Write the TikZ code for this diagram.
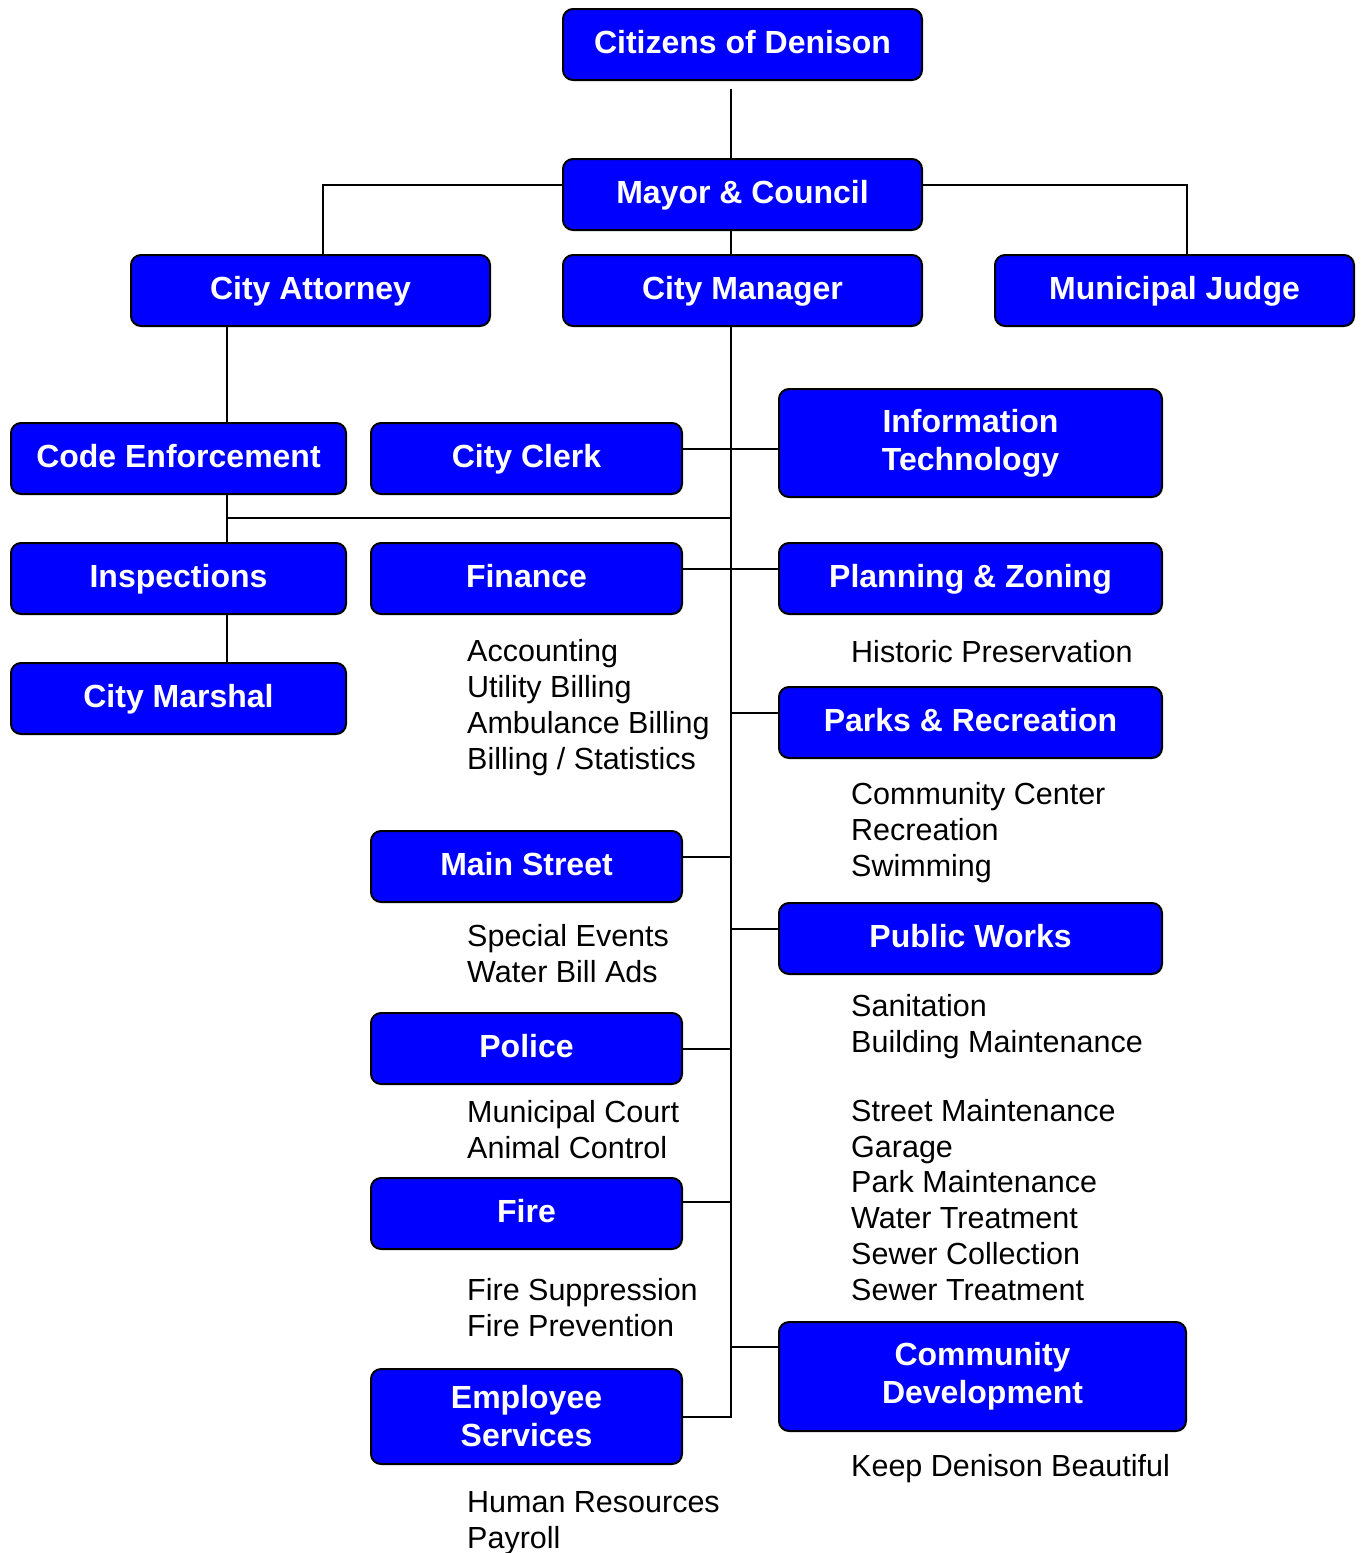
\documentclass[tikz,border=0pt]{standalone}
\usepackage{fontspec}
\setmainfont{Liberation Sans}
\usetikzlibrary{positioning,calc}
\definecolor{boxBlue}{RGB}{0, 0, 255}
\definecolor{inkBlack}{RGB}{0, 0, 0}

\tikzset{
    unit/.style={draw=inkBlack, fill=boxBlue, line width=2pt, rounded corners=10pt,
        text=white, align=center, inner sep=0pt, minimum height=71pt,
        text height=23pt, text depth=5pt,
        font=\fontsize{32pt}{38pt}\selectfont\bfseries},
    twoline/.style={text height={}, text depth={}},
    wide/.style={unit, minimum width=359pt},
    mid/.style={unit, minimum width=311pt},
    side/.style={unit, minimum width=383pt},
    link/.style={draw=inkBlack, line width=2pt},
    duties/.style={anchor=base west, align=left, inner sep=0pt, text=inkBlack,
        font=\fontsize{30.5pt}{35.7pt}\selectfont}
}

\begin{document}
\begin{tikzpicture}[x=1pt, y=-1pt]
    \useasboundingbox (0,0) rectangle (1362,1553);

    % top of the chart
    \node[wide] (citizens) at (742.5,44.5) {Citizens of Denison};
    \node[wide] (mayor) at (742.5,194.5) {Mayor \& Council};
    \node[wide] (manager) at (742.5,290.5) {City Manager};
    \node[wide] (attorney) at (310.5,290.5) {City Attorney};
    \node[wide] (judge) at (1174.5,290.5) {Municipal Judge};

    % left column
    \node[unit, minimum width=335pt] (codeenf) at (178.5,458.5) {Code Enforcement};
    \node[unit, minimum width=335pt] (inspect) at (178.5,578.5) {Inspections};
    \node[unit, minimum width=335pt] (marshal) at (178.5,698.5) {City Marshal};

    % departments left of the trunk
    \node[mid] (clerk) at (526.5,458.5) {City Clerk};
    \node[mid] (finance) at (526.5,578.5) {Finance};
    \node[mid] (mainst) at (526.5,866.5) {Main Street};
    \node[mid] (police) at (526.5,1048.5) {Police};
    \node[mid] (fire) at (526.5,1213.5) {Fire};
    \node[mid, twoline, minimum height=95pt] (empserv) at (526.5,1416.5) {Employee\\Services};

    % departments right of the trunk
    \node[side, twoline, minimum height=108pt] (infotech) at (970.5,443) {Information\\Technology};
    \node[side] (planning) at (970.5,578.5) {Planning \& Zoning};
    \node[side] (parks) at (970.5,722.5) {Parks \& Recreation};
    \node[side] (pubworks) at (970.5,938.5) {Public Works};
    \node[unit, twoline, minimum width=407pt, minimum height=109pt] (commdev) at (982.5,1376.5) {Community\\Development};

    % divisions (placed at the baseline of the last line)
    \node[duties] (finlist) at (467,769) {Accounting\\Utility Billing\\Ambulance Billing\\Billing / Statistics};
    \node[duties] (planlist) at (851,662) {Historic Preservation};
    \node[duties] (parklist) at (851,876) {Community Center\\Recreation\\Swimming};
    \node[duties] (mainlist) at (467,982) {Special Events\\Water Bill Ads};
    \node[duties] (pwlist) at (851,1052) {Sanitation\\Building Maintenance};
    \node[duties] (pwlist2) at (851,1300) {Street Maintenance\\Garage\\Park Maintenance\\Water Treatment\\Sewer Collection\\Sewer Treatment};
    \node[duties] (polist) at (467,1158) {Municipal Court\\Animal Control};
    \node[duties] (firelist) at (467,1336) {Fire Suppression\\Fire Prevention};
    \node[duties] (cdlist) at (851,1476) {Keep Denison Beautiful};
    \node[duties] (emplist) at (467,1548) {Human Resources\\Payroll};

    % connectors
    \coordinate (trunk) at (731,0);
    \coordinate (leftx) at (227,0);
    \coordinate (tie) at (227,518);

    \draw[link] ([yshift=-8pt]citizens.south -| trunk) -- (mayor.north -| trunk);
    \draw[link] ([yshift=10pt]mayor.west) -| ([xshift=12pt]attorney.north);
    \draw[link] ([yshift=10pt]mayor.east) -| ([xshift=12pt]judge.north);
    \draw[link] (mayor.south -| trunk) -- (manager.north -| trunk);
    \draw[link] (manager.south -| trunk) |- (empserv.east);

    \draw[link] (attorney.south -| leftx) -- (codeenf.north -| leftx);
    \draw[link] (codeenf.south -| leftx) -- (inspect.north -| leftx);
    \draw[link] (inspect.south -| leftx) -- (marshal.north -| leftx);
    \draw[link] (tie) -- (tie -| trunk);

    \draw[link] ([yshift=10pt]clerk.east) -- ([yshift=10pt]clerk.east -| infotech.west);
    \draw[link] ([yshift=10pt]finance.east) -- ([yshift=10pt]finance.east -| planning.west);
    \draw[link] ([yshift=10pt]parks.west) -- ([yshift=10pt]parks.west -| trunk);
    \draw[link] ([yshift=10pt]mainst.east) -- ([yshift=10pt]mainst.east -| trunk);
    \draw[link] ([yshift=10pt]pubworks.west) -- ([yshift=10pt]pubworks.west -| trunk);
    \draw[link] (police.east) -- (police.east -| trunk);
    \draw[link] ([yshift=12pt]fire.east) -- ([yshift=12pt]fire.east -| trunk);
    \draw[link] ([yshift=30pt]commdev.west) -- ([yshift=30pt]commdev.west -| trunk);
\end{tikzpicture}
\end{document}
